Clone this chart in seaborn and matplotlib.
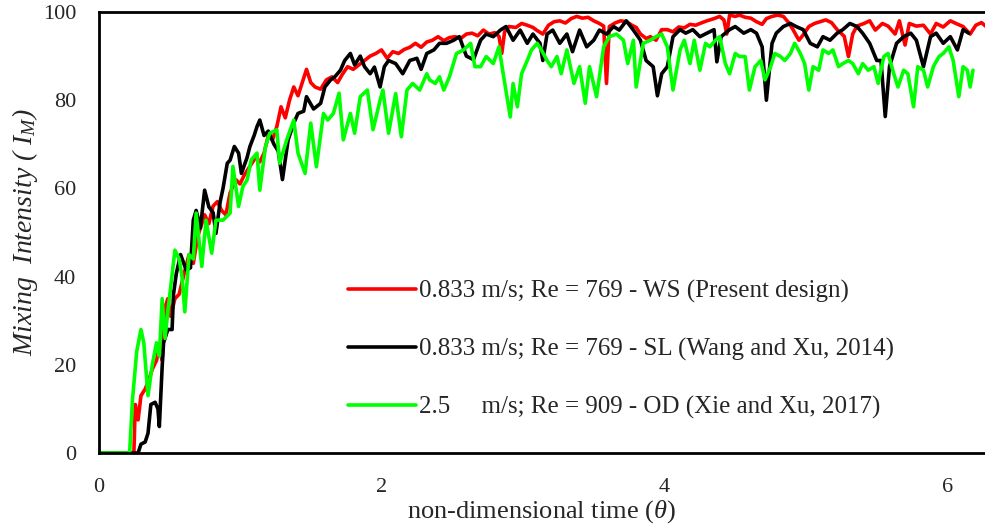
import matplotlib
matplotlib.use("Agg")
import matplotlib.pyplot as plt
import pandas as pd
import seaborn as sns

# values (theta, mixing intensity)
red_theta = [0, 0.25, 0.26, 0.28, 0.3, 0.33, 0.36, 0.38, 0.41, 0.43, 0.45, 0.47, 0.49, 0.51, 0.54, 0.57, 0.6,
             0.64, 0.67, 0.7, 0.72, 0.75, 0.78, 0.81, 0.84, 0.87, 0.9, 0.93, 0.97, 1.0, 1.03, 1.07, 1.11, 1.14,
             1.17, 1.2, 1.23, 1.26, 1.29, 1.32, 1.35, 1.38, 1.41, 1.44, 1.47, 1.5, 1.53, 1.57, 1.61, 1.65, 1.69,
             1.72, 1.76, 1.8, 1.84, 1.88, 1.92, 1.96, 2.0, 2.04, 2.08, 2.12, 2.16, 2.2, 2.24, 2.28, 2.32, 2.36,
             2.4, 2.44, 2.48, 2.52, 2.56, 2.6, 2.64, 2.68, 2.72, 2.76, 2.8, 2.83, 2.85, 2.87, 2.9, 2.95, 2.99,
             3.03, 3.07, 3.1, 3.14, 3.18, 3.22, 3.26, 3.3, 3.34, 3.38, 3.42, 3.46, 3.5, 3.54, 3.57, 3.59, 3.61,
             3.65, 3.69, 3.73, 3.77, 3.8, 3.83, 3.87, 3.9, 3.94, 3.98, 4.02, 4.06, 4.1, 4.14, 4.18, 4.22, 4.25,
             4.3, 4.35, 4.39, 4.42, 4.44, 4.46, 4.5, 4.53, 4.57, 4.61, 4.65, 4.69, 4.72, 4.76, 4.8, 4.84, 4.88,
             4.91, 4.95, 4.98, 5.02, 5.06, 5.1, 5.14, 5.18, 5.22, 5.27, 5.3, 5.33, 5.36, 5.41, 5.45, 5.49, 5.54,
             5.58, 5.63, 5.66, 5.7, 5.73, 5.78, 5.83, 5.88, 5.92, 5.97, 6.02, 6.06, 6.11, 6.16, 6.2, 6.24, 6.28]
red_mi = [0, 0, 11, 7.5, 13, 14.5, 17, 19, 21, 24, 21, 33, 35, 31, 35, 36, 40,
          45, 43, 49, 51, 54, 52, 56, 57, 55, 54, 59, 62, 61, 63, 65, 67, 66,
          68, 72, 71, 74, 78.5, 76, 80, 83, 81, 84, 87, 84, 83, 82.5, 84.6, 85.3, 84,
          85.7, 87.6, 87, 88, 89, 90, 90.6, 91.4, 89.5, 91, 90.6, 91.5, 92, 92.9, 92, 93.2, 93.6,
          94.4, 93.5, 94.2, 94.4, 94, 95, 95.2, 94.6, 95.9, 95, 95.3, 94.5, 90.6, 95.5, 96.7, 96.5, 97.4,
          97, 96.5, 95.8, 95, 97, 97.8, 98, 97.5, 98.5, 99, 98.6, 98.8, 98, 97.4, 96.8, 83.8, 96.7,
          97.5, 98, 97.8, 97, 96.5, 95, 94, 94.4, 93.6, 96, 96, 95.5, 96.6, 96.4, 97.2, 97, 97.4,
          98, 98.5, 99, 98.2, 95, 99.3, 99, 99.3, 98.8, 98.6, 97.8, 97.2, 98.5, 99, 99.3, 99, 97.5,
          95.9, 93.6, 94.8, 96.7, 97.4, 97.8, 98.2, 97.6, 96, 94.5, 89.9, 95, 96.8, 97.4, 98, 95.9, 97.4,
          96.8, 95, 98, 92.5, 97.4, 96.8, 97, 95, 97.4, 96.6, 98, 97.4, 96.7, 95, 97, 97.6, 96.5]

black_theta = [0, 0.28, 0.3, 0.33, 0.35, 0.37, 0.4, 0.42, 0.43, 0.45, 0.46, 0.49, 0.52, 0.53, 0.55, 0.58,
               0.62, 0.65, 0.67, 0.69, 0.72, 0.75, 0.78, 0.81, 0.83, 0.86, 0.88, 0.91, 0.93, 0.96, 0.99, 1.01,
               1.05, 1.07, 1.1, 1.12, 1.14, 1.17, 1.2, 1.24, 1.27, 1.3, 1.34, 1.38, 1.41, 1.45, 1.47, 1.52,
               1.57, 1.6, 1.64, 1.67, 1.71, 1.74, 1.78, 1.81, 1.85, 1.88, 1.92, 1.95, 1.99, 2.02, 2.05, 2.1,
               2.15, 2.2, 2.25, 2.28, 2.32, 2.37, 2.41, 2.46, 2.51, 2.55, 2.6, 2.65, 2.7, 2.74, 2.79, 2.84,
               2.88, 2.93, 2.98, 3.03, 3.07, 3.12, 3.14, 3.17, 3.21, 3.26, 3.31, 3.35, 3.4, 3.45, 3.5, 3.54,
               3.59, 3.64, 3.68, 3.73, 3.78, 3.83, 3.87, 3.92, 3.95, 3.98, 4.02, 4.06, 4.11, 4.15, 4.2, 4.25,
               4.3, 4.35, 4.37, 4.4, 4.46, 4.5, 4.56, 4.61, 4.65, 4.69, 4.72, 4.76, 4.79, 4.84, 4.89, 4.93,
               4.98, 5.03, 5.08, 5.12, 5.17, 5.22, 5.26, 5.31, 5.36, 5.4, 5.45, 5.5, 5.53, 5.56, 5.59, 5.64,
               5.69, 5.74, 5.78, 5.83, 5.88, 5.92, 5.97, 6.02, 6.07, 6.11, 6.15]
black_mi = [0, 0, 2, 2.5, 4.5, 11, 11.5, 10, 6, 19.6, 25, 28, 28, 36, 40.7, 45,
            41.5, 42, 52.8, 55, 51, 59.6, 55.8, 54.5, 49.8, 57, 60, 65.7, 66.4, 69.5, 68, 63.4,
            67, 69.5, 72, 74, 75.5, 72, 73, 70, 68.5, 62, 71, 74.8, 77, 77.5, 80.8, 78,
            79.3, 83, 84.6, 85.3, 86.8, 89, 90.6, 88, 90, 87.6, 86, 87.5, 83, 87.6, 89, 88.3,
            86, 89, 89.5, 87, 90.6, 91.4, 92.9, 92.9, 93.6, 94.4, 90, 89.2, 93.6, 95, 94.4, 95.9,
            96.7, 93.6, 95.9, 92.9, 95, 92.9, 89, 95, 95.9, 92.9, 95, 91, 95.9, 92.1, 93.6, 95.9,
            95, 96.7, 95.9, 98, 95.9, 93.6, 89, 87.6, 81, 86, 87.6, 94.4, 96, 95.2, 96, 94.4,
            95.2, 96, 88.7, 94.4, 96, 96.7, 95.2, 96, 95.2, 92.1, 80, 92.9, 95.2, 96.7, 97.4, 96.7,
            96, 92.9, 92.1, 94.4, 93.6, 95.2, 96, 97.4, 96.7, 95.2, 92.9, 89, 89, 76.3, 87.6, 92.9,
            94.4, 95.2, 93.6, 87.6, 94.4, 95.2, 92.9, 94.4, 91.4, 96, 95.2]

green_theta = [0, 0.22, 0.24, 0.27, 0.3, 0.32, 0.35, 0.38, 0.41, 0.43, 0.45, 0.47, 0.49, 0.54, 0.57, 0.59,
               0.61, 0.64, 0.67, 0.69, 0.73, 0.76, 0.8, 0.83, 0.88, 0.93, 0.95, 0.99, 1.02, 1.05, 1.08, 1.12,
               1.14, 1.18, 1.21, 1.26, 1.28, 1.33, 1.38, 1.41, 1.46, 1.5, 1.54, 1.59, 1.62, 1.66, 1.7, 1.73,
               1.78, 1.81, 1.85, 1.9, 1.94, 1.99, 2.01, 2.05, 2.1, 2.14, 2.18, 2.22, 2.27, 2.32, 2.34, 2.38,
               2.41, 2.44, 2.48, 2.53, 2.58, 2.63, 2.66, 2.7, 2.74, 2.79, 2.83, 2.86, 2.91, 2.93, 2.96, 2.99,
               3.03, 3.06, 3.1, 3.13, 3.17, 3.2, 3.24, 3.27, 3.31, 3.36, 3.4, 3.44, 3.47, 3.52, 3.57, 3.61,
               3.66, 3.71, 3.74, 3.78, 3.8, 3.85, 3.9, 3.94, 3.98, 4.02, 4.06, 4.11, 4.14, 4.18, 4.21, 4.25,
               4.29, 4.32, 4.36, 4.39, 4.43, 4.46, 4.5, 4.53, 4.57, 4.6, 4.64, 4.68, 4.71, 4.75, 4.78, 4.82,
               4.85, 4.89, 4.92, 4.96, 4.99, 5.02, 5.05, 5.09, 5.12, 5.16, 5.19, 5.23, 5.26, 5.3, 5.33, 5.37,
               5.4, 5.44, 5.48, 5.51, 5.55, 5.58, 5.62, 5.65, 5.69, 5.72, 5.76, 5.79, 5.83, 5.86, 5.9, 5.94,
               5.97, 6.01, 6.04, 6.08, 6.11, 6.14, 6.16, 6.18]
green_mi = [0, 0, 12, 23, 28, 25, 13, 20, 25, 22, 35, 26, 32, 46, 44, 40,
            32, 45, 44, 54.4, 42.3, 52.8, 45.3, 52.8, 52.8, 54.4, 65, 55.9, 60.4, 61.9, 66.5, 68,
            59.6, 69.5, 72.5, 73.3, 65.7, 71, 75.5, 68, 63.4, 74.8, 64.9, 77, 75.5, 77, 81.6, 71,
            77, 72.5, 80.8, 82.3, 73.3, 80, 82.3, 72.5, 81.5, 71.7, 82.3, 83.8, 82.3, 86, 84.6, 83.8,
            85.3, 82.3, 85.3, 90.6, 91.4, 92.9, 87.6, 87.6, 89.9, 88.3, 92.1, 86, 76.2, 83.8, 78.5, 86,
            89, 91.4, 92.9, 91.4, 89, 87.6, 89.9, 86, 91.4, 83.8, 87.6, 79.3, 87.6, 80.8, 92.1, 94.4,
            95, 93.6, 88.3, 93.6, 83, 92.9, 93.6, 94.4, 95, 92.1, 82.3, 91.4, 93.6, 88.3, 93.6, 86.8,
            92.9, 92.1, 93.6, 94.4, 88.3, 86, 90.6, 89.9, 89.9, 82.3, 87.6, 89, 84.6, 87.6, 90.6, 89.9,
            89, 90.6, 92.9, 90.6, 88.3, 82.3, 87.6, 86.8, 91.4, 90.6, 91.4, 87.6, 88.3, 89, 88.3, 86,
            88.3, 86.8, 87.6, 83.8, 89.9, 90.6, 86, 83, 86.8, 86, 78.5, 87.6, 86.8, 83, 87.6, 89.9,
            90.6, 92.1, 89, 80.8, 87.6, 86.8, 83, 86.8]

labels = ["0.833 m/s; Re = 769 - WS (Present design)",
          "0.833 m/s; Re = 769 - SL (Wang and Xu, 2014)",
          "2.5     m/s; Re = 909 - OD (Xie and Xu, 2017)"]
colors = ["#FF0000", "#000000", "#00FF00"]

sns.set_style("white")
plt.rcParams["font.family"] = ["Liberation Serif", "DejaVu Serif"]
plt.rcParams["mathtext.fontset"] = "custom"
plt.rcParams["mathtext.rm"] = "Liberation Serif"
plt.rcParams["mathtext.it"] = "Liberation Serif:italic"

fig = plt.figure(figsize=(9.85, 5.31), dpi=100)
ax = fig.add_axes([98.5 / 985, 1 - 453 / 531, 1 - 98.5 / 985, (453 - 12) / 531])

series = [(red_theta, red_mi), (black_theta, black_mi), (green_theta, green_mi)]
for (th, mi), lab, col in zip(series, labels, colors):
    df = pd.DataFrame({"theta": th, "mi": mi})
    sns.lineplot(data=df, x="theta", y="mi", color=col, lw=2.6, label=lab, ax=ax)

ax.set_xlim(0, 6.265)
ax.set_ylim(0, 100)
ax.set_xticks([0, 2, 4, 6])
ax.set_yticks([0, 20, 40, 60, 80, 100])
ax.tick_params(direction="in", length=5, width=1.5, labelsize=16)
ax.tick_params(axis="y", pad=16)
ax.tick_params(axis="x", pad=18)
for side in ["left", "bottom", "top"]:
    ax.spines[side].set_linewidth(2)
    ax.spines[side].set_color("black")
ax.spines["right"].set_visible(False)

ax.set_xlabel(r"non-dimensional time ($\theta$)", fontsize=19, labelpad=1)
ax.set_ylabel(r"Mixing  Intensity ( $I_M$)", fontsize=20, style="italic", labelpad=2)

ax.legend(loc="upper left", bbox_to_anchor=(348 / 985, 1 - 280 / 531), bbox_transform=fig.transFigure,
          frameon=False, fontsize=18, handlelength=2.7, handletextpad=0.15, labelspacing=1.4,
          borderaxespad=0, borderpad=0)

fig.savefig("out.png", dpi=100)
